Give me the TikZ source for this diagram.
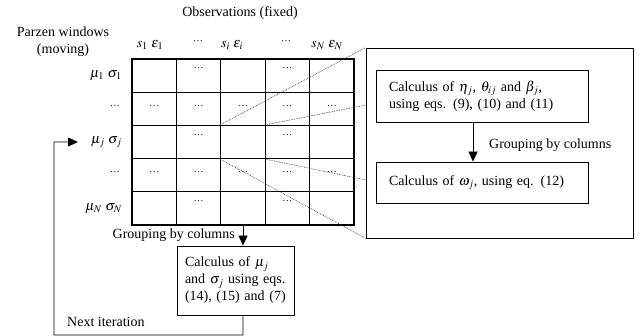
\documentclass[tikz,border=0pt]{standalone}
\usepackage{mathptmx}
\usepackage{fontspec}
\setmainfont{Liberation Serif}
\usetikzlibrary{positioning,arrows.meta}

\begin{document}
\begin{tikzpicture}[
    x=1pt, y=-1pt,
    every node/.style={font=\fontsize{14}{17}\selectfont, inner sep=0pt},
    cell/.style={draw, line width=1.2pt, minimum width=44.4pt, minimum height=33.2pt},
    dots/.style={font=\fontsize{10}{11}\selectfont},
    box/.style={draw, line width=0.8pt, align=left, inner sep=0pt},
    arrow/.style={-{Triangle[length=10pt,width=9pt]}, line width=0.8pt},
    zoomline/.style={densely dotted, black!75, line width=0.7pt}
]
\useasboundingbox (0,0) rectangle (639,336);

% titles
\node (obs) at (240,13) {Observations (fixed)};
\node (parzen) [align=center] at (63,42) {Parzen windows\\(moving)};

% column headers
\node (h1) at (150,45) {$s_1\ \varepsilon_1$};
\node (h2) at (198,41) {\fontsize{10}{11}\selectfont\dots};
\node (h3) at (232,45) {$s_i\ \varepsilon_i$};
\node (h4) at (286,41) {\fontsize{10}{11}\selectfont\dots};
\node (h5) at (327,45) {$s_N\ \varepsilon_N$};

% row labels
\node (r1) [anchor=east] at (122,76) {$\mu_1\ \sigma_1$};
\node (r2) [anchor=east] at (120,106) {\fontsize{10}{11}\selectfont\dots};
\node (r3) [anchor=east] at (122,142) {$\mu_j\ \sigma_j$};
\node (r4) [anchor=east] at (120,172) {\fontsize{10}{11}\selectfont\dots};
\node (r5) [anchor=east] at (122,209) {$\mu_N\ \sigma_N$};

% grid of cells
\foreach \r in {1,...,5} {
  \foreach \c in {1,...,5} {
    \node (c-\r-\c) [cell] at ({132+44.4*(\c-0.5)},{59+33.2*(\r-0.5)}) {};
  }
}
\foreach \r in {1,3,5} {
  \foreach \c in {2,4} {
    \node [dots] at ([yshift=-10pt]c-\r-\c.north) {\dots};
  }
}
\foreach \r in {2,4} {
  \foreach \c in {1,...,5} {
    \node [dots] at ([yshift=-14pt]c-\r-\c.north) {\dots};
  }
}

% detail of one cell
\node (detail) [draw, line width=0.8pt, minimum width=267pt, minimum height=190pt] at (499.5,143) {};
\coordinate (dupper) at (366,105);
\coordinate (dlower) at (366,180);
\node (eqa) [box, minimum width=212pt, minimum height=52pt, text width=186pt] at (482,96)
  {Calculus of $\eta_j$, $\theta_{ij}$ and $\beta_j$,\\using eqs. (9), (10) and (11)};
\node (eqb) [box, minimum width=212pt, minimum height=41pt, text width=186pt] at (482,182.5)
  {Calculus of $\omega_j$, using eq. (12)};
\draw[arrow] (eqa.south -| 473,0) -- (eqb.north -| 473,0);
\node (grpa) [anchor=west] at (489,145) {Grouping by columns};

\draw[zoomline] (c-3-3.north west) -- (detail.north west);
\draw[zoomline] (c-3-3.north east) -- (dupper);
\draw[zoomline] (c-3-3.south east) -- (dlower);
\draw[zoomline] (c-3-3.south west) -- (detail.south west);

% update of the windows
\node (update) [box, minimum width=117pt, minimum height=69pt, text width=101pt] at (235.5,280.5)
  {Calculus of $\mu_j$\\and $\sigma_j$ using eqs.\\(14), (15) and (7)};
\node (grpb) [anchor=east] at (235,235) {Grouping by columns};
\draw[arrow] (c-5-3.south) -- (c-5-3.south |- update.north);

% next iteration
\coordinate (loopin) at (78,142);
\draw[arrow] (c-5-3.south |- update.south) -- (243,335) -- (54,335) -- (54,142) -- (loopin);
\node (next) [anchor=west] at (67,322) {Next iteration};
\end{tikzpicture}
\end{document}
